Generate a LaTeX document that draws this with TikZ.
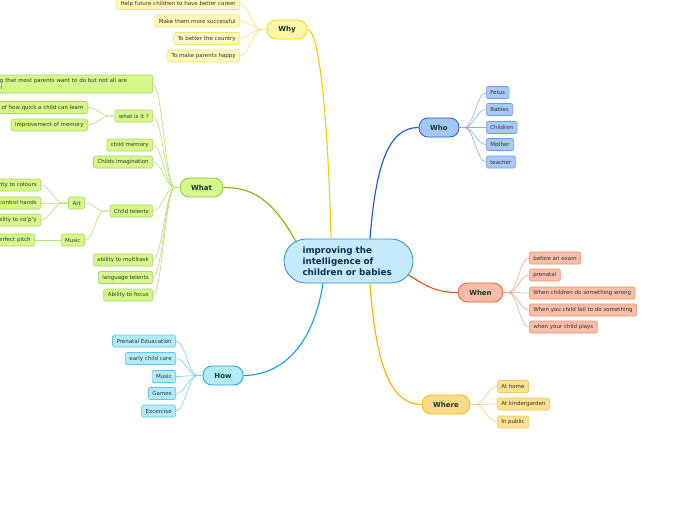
\documentclass[tikz,border=0pt]{standalone}
\usepackage{fontspec}
\setmainfont{DejaVu Sans}
\definecolor{txt}{HTML}{333333}
\definecolor{maintxt}{HTML}{0E3B2E}
\definecolor{ctxt}{HTML}{0C2B5B}
\definecolor{cfill}{HTML}{C6EAFB}\definecolor{cdraw}{HTML}{2A90D0}
\definecolor{yfill}{HTML}{FFF5A6}\definecolor{ydraw}{HTML}{F2D62A}\definecolor{yline}{HTML}{F2D000}
\definecolor{ylfill}{HTML}{FFF8B8}\definecolor{yldraw}{HTML}{F5E07A}\definecolor{ylink}{HTML}{F7E47A}
\definecolor{gfill}{HTML}{D4F98A}\definecolor{gdraw}{HTML}{8CC63F}\definecolor{gline}{HTML}{7AB800}
\definecolor{gldraw}{HTML}{A8D860}\definecolor{glink}{HTML}{B8DE78}
\definecolor{bfill}{HTML}{A3C6F7}\definecolor{bdraw}{HTML}{1D62D6}\definecolor{bline}{HTML}{1556D0}
\definecolor{blfill}{HTML}{A8C8F8}\definecolor{bldraw}{HTML}{6F9EE8}\definecolor{blink}{HTML}{8AB0F0}
\definecolor{rfill}{HTML}{F8BCA8}\definecolor{rdraw}{HTML}{F0602F}\definecolor{rline}{HTML}{F0501E}
\definecolor{rlfill}{HTML}{F9BDA8}\definecolor{rldraw}{HTML}{F09070}\definecolor{rlink}{HTML}{F5A890}
\definecolor{ofill}{HTML}{FFD98A}\definecolor{odraw}{HTML}{F5B800}\definecolor{oline}{HTML}{F7B500}
\definecolor{olfill}{HTML}{FFDF90}\definecolor{oldraw}{HTML}{F5C860}\definecolor{olink}{HTML}{F8D078}
\definecolor{hfill}{HTML}{B3EBFB}\definecolor{hdraw}{HTML}{1AA6E0}\definecolor{hline}{HTML}{12A0E0}
\definecolor{hldraw}{HTML}{5CC6EF}\definecolor{hlink}{HTML}{7ED2F2}
\tikzset{
  leaf/.style={draw, rounded corners=1.5pt, font=\fontsize{5.5}{6.5}\selectfont, text=txt,
    inner xsep=4pt, inner ysep=0pt, minimum height=12pt, line width=0.6pt},
  mainbox/.style={draw, rounded corners=9pt, font=\bfseries\fontsize{7}{8}\selectfont, text=maintxt,
    minimum height=19pt, minimum width=40pt, inner xsep=11pt, line width=0.8pt},
  yleaf/.style={leaf, fill=ylfill, draw=yldraw},
  gleaf/.style={leaf, fill=gfill, draw=gldraw},
  bleaf/.style={leaf, fill=blfill, draw=bldraw},
  rleaf/.style={leaf, fill=rlfill, draw=rldraw},
  oleaf/.style={leaf, fill=olfill, draw=oldraw},
  hleaf/.style={leaf, fill=hfill, draw=hldraw},
  trunk/.style={line width=1.1pt},
  twig/.style={line width=0.6pt},
}
\newcommand{\lnkL}[3]{\draw[twig,#1] (#2.west) -- ++(-5,0) .. controls +(-9,0) and +(9,0) .. (#3.east);}
\newcommand{\lnkR}[3]{\draw[twig,#1] (#2.east) -- ++(5,0) .. controls +(9,0) and +(-9,0) .. (#3.west);}
\begin{document}
\begin{tikzpicture}[x=1pt,y=-1pt]
\useasboundingbox (0,0) rectangle (696,520);
\fill[white] (0,0) rectangle (696,520);

% center
\node[draw=cdraw, fill=cfill, line width=0.8pt, rounded corners=22pt, text width=92pt, align=left,
  inner xsep=18.5pt, minimum height=44pt, text=ctxt, font=\bfseries\fontsize{8.8}{11}\selectfont]
  (c) at (348.5,261) {improving the\\intelligence of\\children or babies};

% main nodes
\node[mainbox, fill=yfill, draw=ydraw] (why) at (287,29.5) {Why};
\node[mainbox, fill=gfill, draw=gdraw] (what) at (201.5,187.5) {What};
\node[mainbox, fill=bfill, draw=bdraw] (who) at (439,127.5) {Who};
\node[mainbox, fill=rfill, draw=rdraw] (when) at (480.5,292.5) {When};
\node[mainbox, fill=ofill, draw=odraw] (where) at (446,404.5) {Where};
\node[mainbox, fill=hfill, draw=hdraw] (how) at (223,375.5) {How};

% trunks
\draw[trunk, yline] ([xshift=-17.5pt]c.north) .. controls +(-3,-120) and +(12,0) .. (why.east);
\draw[trunk, bline] ([xshift=21.5pt]c.north) .. controls +(6,-75) and +(-30,0) .. (who.west);
\draw[trunk, rline] ([xshift=-5pt,yshift=-14pt]c.east) .. controls +(20,12) and +(-22,0) .. (when.west);
\draw[trunk, oline] ([xshift=21.5pt]c.south) .. controls +(6,85) and +(-30,0) .. (where.west);
\draw[trunk, hline] ([xshift=-25.5pt]c.south) .. controls +(-12,75) and +(28,0) .. (how.east);
\draw[trunk, gline] ([xshift=13pt,yshift=-4pt]c.north west) .. controls +(-25,-45) and +(28,0) .. (what.east);

% Why leaves
\node[yleaf, anchor=east] (y1) at (240,3.5) {Help future children to have better career};
\node[yleaf, anchor=east] (y2) at (240,21) {Make them more successful};
\node[yleaf, anchor=east] (y3) at (240,38.5) {To better the country};
\node[yleaf, anchor=east] (y4) at (240,56) {To make parents happy};
\foreach \n in {y1,y2,y3,y4} {\lnkL{ylink}{why}{\n}}

% What leaves
\node[gleaf, anchor=east, align=left, text width=175pt, minimum height=18pt, font=\fontsize{5.5}{6.2}\selectfont] (g1) at (153,84)
  {Something that most parents want to do but not all are\\successful};
\node[gleaf, anchor=east] (g2) at (153,116) {what is it ?};
\node[gleaf, anchor=east] (g3) at (153,145) {child memory};
\node[gleaf, anchor=east] (g4) at (153,162) {Childs imagination};
\node[gleaf, anchor=east] (g5) at (153,211) {Child telents};
\node[gleaf, anchor=east] (g6) at (153,260) {ability to multitask};
\node[gleaf, anchor=east] (g7) at (153,277.5) {language telents};
\node[gleaf, anchor=east] (g8) at (153,295) {Ability to focus};
\foreach \n in {g1,g2,g3,g4,g5,g6,g7,g8} {\lnkL{glink}{what}{\n}}

\node[gleaf, anchor=east] (g21) at (88,107.5) {Test of how quick a child can learn};
\node[gleaf, anchor=east] (g22) at (88,125) {improvement of memory};
\lnkL{glink}{g2}{g21}
\lnkL{glink}{g2}{g22}

\node[gleaf, anchor=east] (art) at (85,203) {Art};
\node[gleaf, anchor=east] (mus) at (85,240) {Music};
\lnkL{glink}{g5}{art}
\lnkL{glink}{g5}{mus}
\node[gleaf, anchor=east] (a1) at (41,185) {Sensitivity to colours};
\node[gleaf, anchor=east] (a2) at (41,203) {Ability to control hands};
\node[gleaf, anchor=east] (a3) at (41,220) {Ability to co'p'y};
\foreach \n in {a1,a2,a3} {\lnkL{glink}{art}{\n}}
\node[gleaf, anchor=east] (m1) at (35,240) {Perfect pitch};
\draw[twig, glink] (mus.west) -- (m1.east);

% How leaves
\node[hleaf, anchor=east] (h1) at (176,341) {Prenatal Eduacation};
\node[hleaf, anchor=east] (h2) at (176,358.5) {early child care};
\node[hleaf, anchor=east] (h3) at (176,376.5) {Music};
\node[hleaf, anchor=east] (h4) at (176,393.5) {Games};
\node[hleaf, anchor=east] (h5) at (176,411) {Excercise};
\foreach \n in {h1,h2,h3,h4,h5} {\lnkL{hlink}{how}{\n}}

% Who leaves
\node[bleaf, anchor=west] (b1) at (486,92.5) {Fetus};
\node[bleaf, anchor=west] (b2) at (486,109.5) {Babies};
\node[bleaf, anchor=west] (b3) at (486,127.5) {Children};
\node[bleaf, anchor=west] (b4) at (486,144.5) {Mother};
\node[bleaf, anchor=west] (b5) at (486,162) {teacher};
\foreach \n in {b1,b2,b3,b4,b5} {\lnkR{blink}{who}{\n}}

% When leaves
\node[rleaf, anchor=west] (r1) at (529,258) {before an exam};
\node[rleaf, anchor=west] (r2) at (529,275) {prenatal};
\node[rleaf, anchor=west] (r3) at (529,293) {When children do something wrong};
\node[rleaf, anchor=west] (r4) at (529,310) {When you child fail to do something};
\node[rleaf, anchor=west] (r5) at (529,327) {when your child plays};
\foreach \n in {r1,r2,r3,r4,r5} {\lnkR{rlink}{when}{\n}}

% Where leaves
\node[oleaf, anchor=west] (o1) at (497,386.5) {At home};
\node[oleaf, anchor=west] (o2) at (497,404) {At kindergarden};
\node[oleaf, anchor=west] (o3) at (497,422) {In public};
\foreach \n in {o1,o2,o3} {\lnkR{olink}{where}{\n}}
\end{tikzpicture}
\end{document}
